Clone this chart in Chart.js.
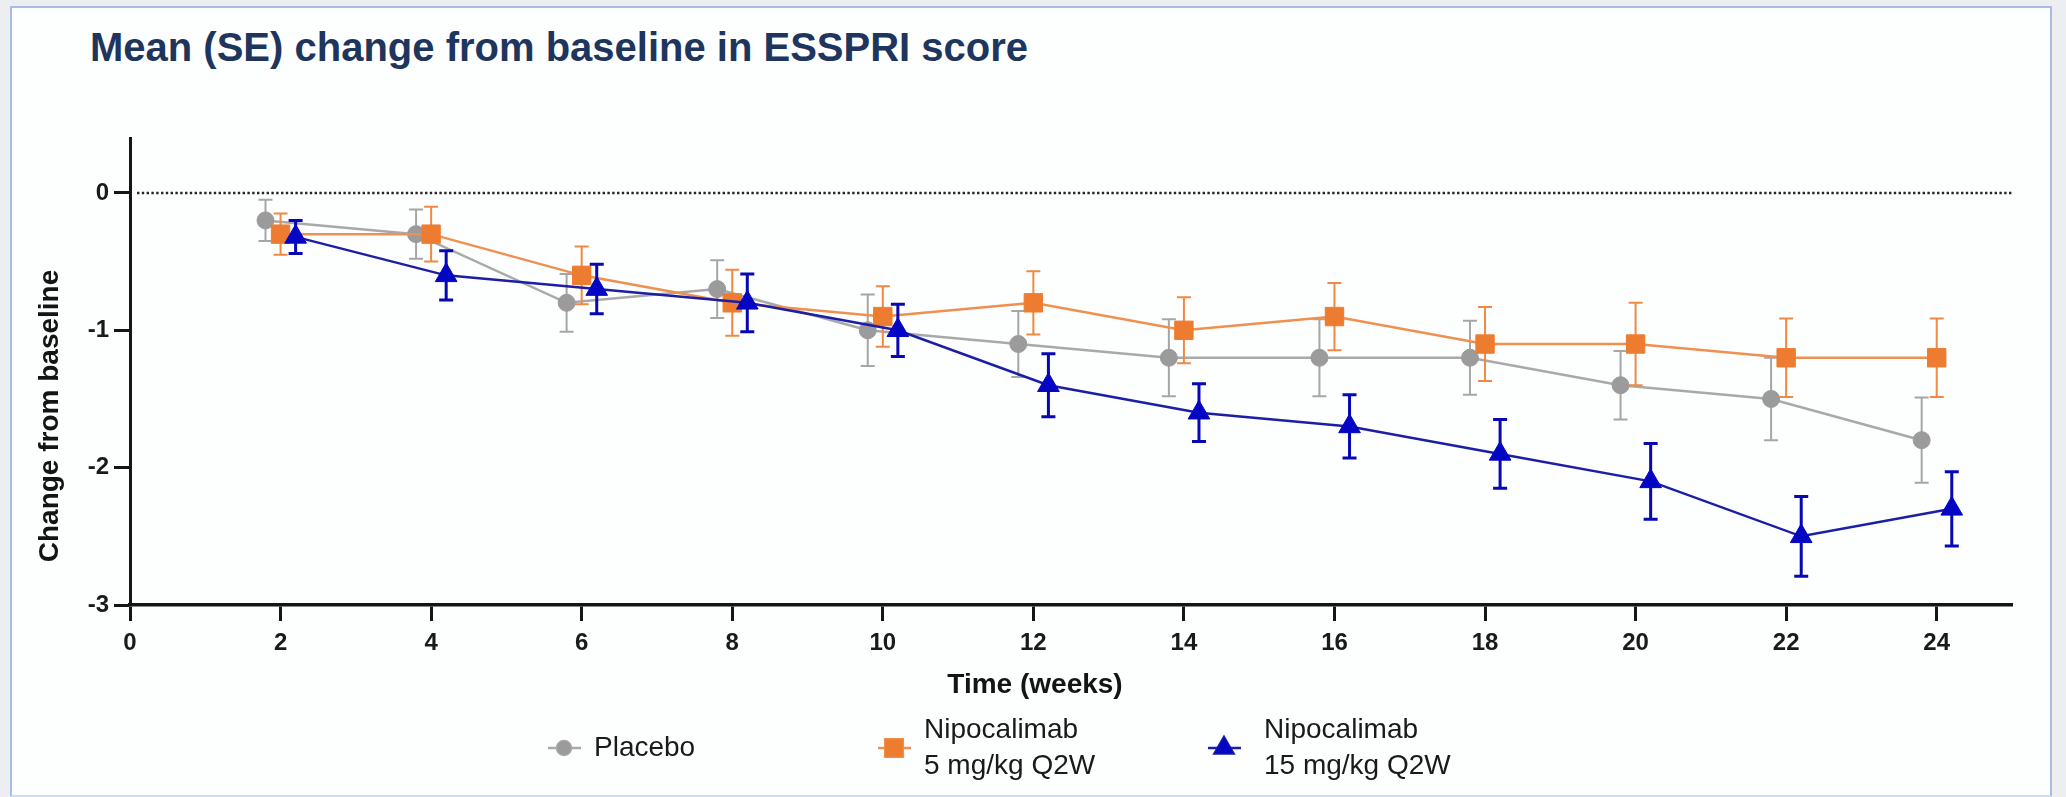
<!DOCTYPE html>
<html>
<head>
<meta charset="utf-8">
<script src="https://cdn.jsdelivr.net/npm/chart.js@4.4.0/dist/chart.umd.min.js"></script>
<style>
  html, body { margin: 0; padding: 0; width: 2066px; height: 797px; overflow: hidden; background: #eceef1; }
  #panel { position: absolute; left: 10px; top: 6px; width: 2042px; height: 791px; box-sizing: border-box;
           border: 2px solid #a9bde4; border-bottom-color: #cfdcf2; background: #fdfefe; }
  #title { position: absolute; left: 90px; top: 27px; font: bold 40px "Liberation Sans", Arial, sans-serif;
           line-height: 40px; color: #1e355e; white-space: nowrap; }
  #chart { position: absolute; left: 0; top: 0; }
</style>
</head>
<body>
<div id="panel"></div>
<div id="title">Mean (SE) change from baseline in ESSPRI score</div>
<canvas id="chart" width="2066" height="797"></canvas>
<script>
// Visit weeks and mean (SE) change from baseline in ESSPRI score per arm
const weeks = [2, 4, 6, 8, 10, 12, 14, 16, 18, 20, 22, 24];
const placeboMean = [-0.2, -0.3, -0.8, -0.7, -1.0, -1.1, -1.2, -1.2, -1.2, -1.4, -1.5, -1.8];
const placeboSE   = [0.15, 0.18, 0.21, 0.21, 0.26, 0.24, 0.28, 0.28, 0.27, 0.25, 0.30, 0.31];
const nipo5Mean   = [-0.3, -0.3, -0.6, -0.8, -0.9, -0.8, -1.0, -0.9, -1.1, -1.1, -1.2, -1.2];
const nipo5SE     = [0.15, 0.20, 0.21, 0.24, 0.22, 0.23, 0.24, 0.245, 0.27, 0.30, 0.285, 0.285];
const nipo15Mean  = [-0.32, -0.6, -0.7, -0.8, -1.0, -1.4, -1.6, -1.7, -1.9, -2.1, -2.5, -2.3];
const nipo15SE    = [0.12, 0.18, 0.18, 0.21, 0.19, 0.23, 0.21, 0.23, 0.25, 0.275, 0.29, 0.27];

const xTickValues = [0, 2, 4, 6, 8, 10, 12, 14, 16, 18, 20, 22, 24];
const yTickValues = [0, -1, -2, -3];
const seriesLabels = [['Placebo'], ['Nipocalimab', '5 mg/kg Q2W'], ['Nipocalimab', '15 mg/kg Q2W']];
const xAxisTitle = 'Time (weeks)';
const yAxisTitle = 'Change from baseline';

const FONT = '"Liberation Sans", Arial, sans-serif';
const DODGE = 0.2; // horizontal nudge (weeks) so overlapping arms stay readable
const CAP = 7;     // half width of error bar caps, px

function points(mean, se, shift) {
  return weeks.map((w, i) => ({ x: w + shift, y: mean[i], se: se[i] }));
}

const styles = [
  { line: '#a9a9a9', marker: '#9b9b9b', err: '#a6a6a6', errWidth: 2, pointStyle: 'circle', radius: 8.5 },
  { line: '#f0904f', marker: '#ee7c30', err: '#ef8944', errWidth: 2, pointStyle: 'rect', radius: 13 },
  { line: '#1d1da6', marker: '#0505c4', err: '#0707b4', errWidth: 3, pointStyle: 'triangle', radius: 12.5 }
];

const series = [
  points(placeboMean, placeboSE, -DODGE),
  points(nipo5Mean, nipo5SE, 0),
  points(nipo15Mean, nipo15SE, DODGE)
];

const datasets = series.map((data, i) => ({
  label: seriesLabels[i].join(' '),
  data,
  order: 3 - i,
  borderColor: styles[i].line,
  borderWidth: 2.5,
  backgroundColor: styles[i].marker,
  pointBackgroundColor: styles[i].marker,
  pointBorderColor: styles[i].marker,
  pointBorderWidth: 1,
  pointStyle: styles[i].pointStyle,
  pointRadius: styles[i].radius,
  tension: 0,
  errColor: styles[i].err,
  errWidth: styles[i].errWidth
}));

// SE whiskers drawn under each arm's line and markers
const errorBars = {
  id: 'errorBars',
  beforeDatasetDraw(chart, args) {
    const ds = chart.data.datasets[args.index];
    const { ctx, scales: { x, y } } = chart;
    ctx.save();
    ctx.strokeStyle = ds.errColor;
    ctx.lineWidth = ds.errWidth;
    ds.data.forEach(p => {
      const px = x.getPixelForValue(p.x);
      const top = y.getPixelForValue(p.y + p.se);
      const bot = y.getPixelForValue(p.y - p.se);
      ctx.beginPath();
      ctx.moveTo(px, top); ctx.lineTo(px, bot);
      ctx.moveTo(px - CAP, top); ctx.lineTo(px + CAP, top);
      ctx.moveTo(px - CAP, bot); ctx.lineTo(px + CAP, bot);
      ctx.stroke();
    });
    ctx.restore();
  }
};

// Dotted reference line at no change
const zeroLine = {
  id: 'zeroLine',
  beforeDatasetsDraw(chart) {
    const { ctx, chartArea, scales: { y } } = chart;
    const py = y.getPixelForValue(0);
    ctx.save();
    ctx.strokeStyle = '#262626';
    ctx.lineWidth = 2.6;
    ctx.setLineDash([2.4, 2.4]);
    ctx.beginPath();
    ctx.moveTo(chartArea.left + 7, py);
    ctx.lineTo(chartArea.right, py);
    ctx.stroke();
    ctx.restore();
  }
};

// Axis titles and the legend below the plot
const annotations = {
  id: 'annotations',
  afterDraw(chart) {
    const { ctx } = chart;
    ctx.save();
    ctx.fillStyle = '#141414';
    ctx.font = 'bold 28px ' + FONT;
    ctx.textAlign = 'center';
    ctx.textBaseline = 'alphabetic';
    ctx.fillText(xAxisTitle, 1035, 693);
    ctx.translate(58, 416);
    ctx.rotate(-Math.PI / 2);
    ctx.fillText(yAxisTitle, 0, 0);
    ctx.restore();

    const startX = 548, pitch = 330, cy = 748, lineGap = 36;
    ctx.save();
    chart.data.datasets.forEach((ds, i) => {
      const x0 = startX + i * pitch;
      const mx = x0 + 16;
      ctx.strokeStyle = ds.borderColor;
      ctx.lineWidth = 2.5;
      ctx.beginPath();
      ctx.moveTo(x0, cy); ctx.lineTo(x0 + 33, cy);
      ctx.stroke();
      const r = i === 0 ? 7 : i === 1 ? 12.5 : 11;
      Chart.helpers.drawPoint(ctx, {
        pointStyle: ds.pointStyle, radius: r, borderWidth: 1, rotation: 0
      }, mx, cy);
      ctx.fillStyle = ds.pointBackgroundColor;
      ctx.fill();
      ctx.fillStyle = '#1a1a1a';
      ctx.font = '28px ' + FONT;
      ctx.textAlign = 'left';
      ctx.textBaseline = 'middle';
      const lines = seriesLabels[i];
      const tx = x0 + (i === 2 ? 56 : 46);
      lines.forEach((t, k) => {
        const ty = cy + (k - (lines.length - 1) / 2) * lineGap;
        ctx.fillText(t, tx, ty);
      });
    });
    ctx.restore();
  }
};

const tickFont = { family: FONT, size: 24, weight: 'bold' };

new Chart(document.getElementById('chart'), {
  type: 'line',
  data: { datasets },
  plugins: [errorBars, zeroLine, annotations],
  options: {
    responsive: false,
    animation: false,
    events: [],
    layout: { padding: { left: 0, top: 138, right: 54, bottom: 0 } },
    plugins: { legend: { display: false }, tooltip: { enabled: false }, title: { display: false } },
    scales: {
      x: {
        type: 'linear', min: 0, max: 25,
        afterBuildTicks: s => { s.ticks = xTickValues.map(v => ({ value: v })); },
        afterFit: s => { s.height = 192; },
        grid: { drawOnChartArea: false, drawTicks: true, tickLength: 16, tickWidth: 3, tickColor: '#151515' },
        border: { display: true, color: '#151515', width: 3.5 },
        ticks: { font: tickFont, color: '#1a1a1a', padding: 8, maxRotation: 0, autoSkip: false }
      },
      y: {
        type: 'linear', min: -3, max: 0.4,
        afterBuildTicks: s => { s.ticks = yTickValues.map(v => ({ value: v })); },
        afterFit: s => { s.width = 130; },
        grid: { drawOnChartArea: false, drawTicks: true, tickLength: 16, tickWidth: 3, tickColor: '#151515' },
        border: { display: true, color: '#151515', width: 3 },
        ticks: { font: tickFont, color: '#1a1a1a', padding: 5 }
      }
    }
  }
});
</script>
</body>
</html>
